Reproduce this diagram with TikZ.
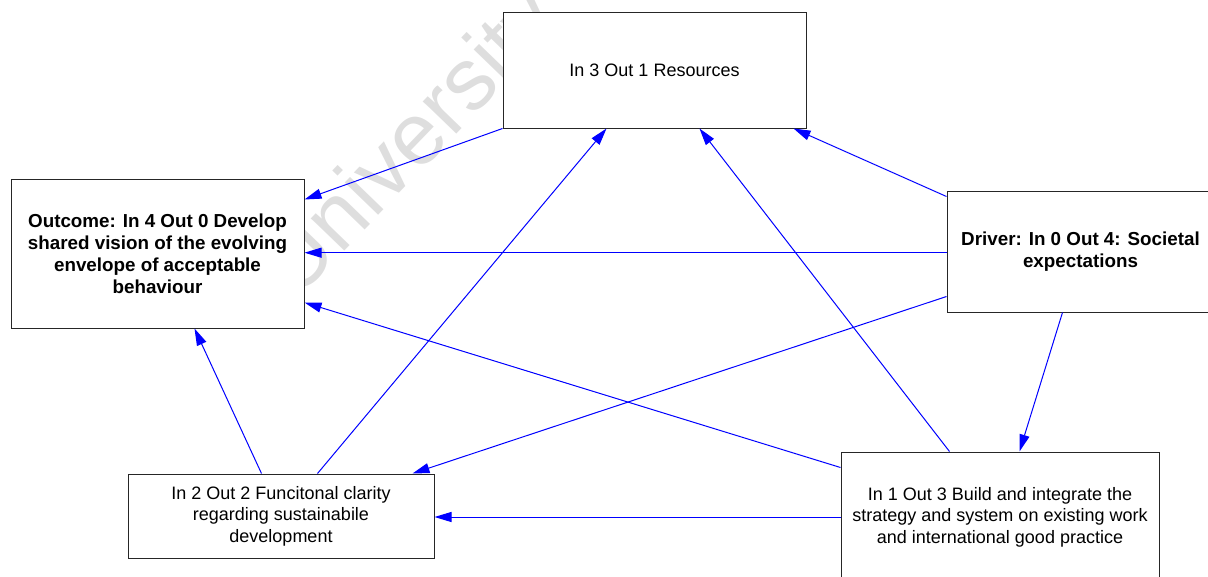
\documentclass[tikz,border=0pt]{standalone}
\usepackage{fontspec}
\setmainfont{Liberation Sans}
\usetikzlibrary{arrows.meta}
\begin{document}
\begin{tikzpicture}[x=1pt,y=-1pt,
  box/.style={draw=black!85, line width=1pt, fill=white, align=center,
    inner sep=0pt, font=\fontsize{18}{21.5}\selectfont},
  boldbox/.style={box, font=\fontsize{18.8}{22}\selectfont\bfseries},
  link/.style={draw=blue, line width=1pt, -{Triangle[length=17pt,width=10pt]}}]
\useasboundingbox (0,0) rectangle (1208,576);
\clip (0,0) rectangle (1208,576);
% faint watermark behind the boxes
\node[rotate=46, text=black!13, inner sep=0pt,
  font=\fontsize{88}{88}\selectfont] (wm) at (414,146) {University};
% boxes
\node[box, minimum width=303pt, minimum height=116pt] (res) at (654.5,70)
  {In 3 Out 1 Resources};
\node[boldbox, minimum width=293pt, minimum height=149pt] (out) at (157.5,253.5)
  {Outcome: In 4 Out 0 Develop\\shared vision of the evolving\\envelope of acceptable\\behaviour};
\node[boldbox, minimum width=267pt, minimum height=121pt] (drv) at (1080.5,251.5)
  {Driver: In 0 Out 4: Societal\\expectations};
\node[box, minimum width=306pt, minimum height=84pt] (fun) at (281,516)
  {In 2 Out 2 Funcitonal clarity\\regarding sustainabile\\development};
\node[box, minimum width=318pt, minimum height=130pt] (bld) at (1000,517)
  {In 1 Out 3 Build and integrate the\\strategy and system on existing work\\and international good practice};
% connectors
\draw[link] (res.south west) -- ([yshift=-21pt]out.north east);
\draw[link] ([yshift=-1.2pt]drv.west) -- ([yshift=-1.2pt]drv.west -| out.east);
\draw[link] ([yshift=-6pt]drv.north west) -- ([xshift=-13pt]res.south east);
\draw[link] ([yshift=16pt]drv.south west) -- ([xshift=-22pt]fun.north east);
\draw[link] ([xshift=116pt]drv.south west) -- ([xshift=179pt]bld.north west);
\draw[link] ([yshift=-16pt]bld.north west) -- ([yshift=26pt]out.south east);
\draw[link] ([xshift=109pt]bld.north west) -- ([xshift=197pt]res.south west);
\draw[link] ([xshift=190pt]fun.north west) -- ([xshift=104pt]res.south west);
\draw[link] ([xshift=134pt]fun.north west) -- ([xshift=184pt]out.south west);
\draw[link] (bld.west) -- (bld.west -| fun.east);
\end{tikzpicture}
\end{document}
